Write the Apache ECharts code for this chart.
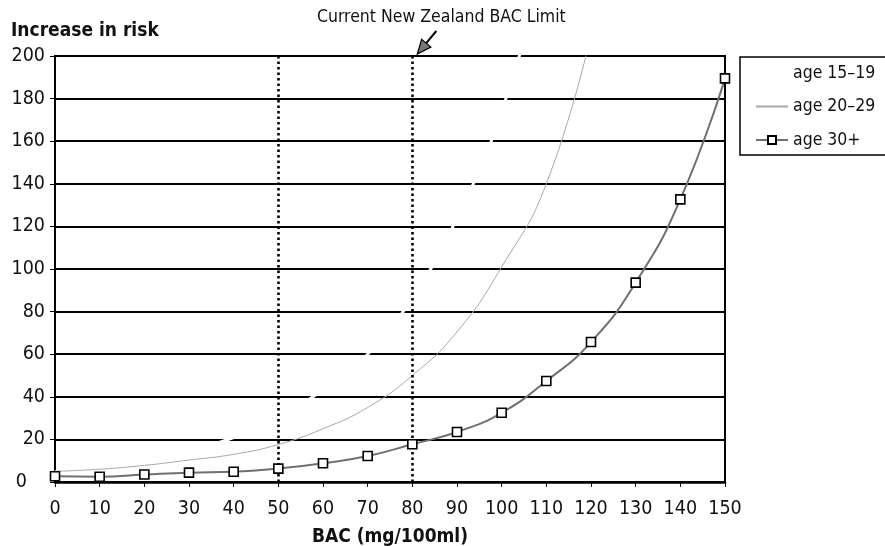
<!DOCTYPE html>
<html>
<head>
<meta charset="utf-8">
<script src="https://cdn.jsdelivr.net/npm/echarts@6/dist/echarts.min.js"></script>
<style>
html,body{margin:0;padding:0;background:#fff;}
#chart{width:885px;height:546px;}
</style>
</head>
<body>
<div id="chart"></div>
<script>
// ---- data ----
const bac = [0, 10, 20, 30, 40, 50, 60, 70, 80, 90, 100, 110, 120, 130, 140, 150];
const age15to19 = [4.8, 7.0, 10.0, 14.4, 20.9, 30.2, 43.4, 60.0, 86.6, 124, 174, 247];
const age20to29 = [5.0, 6.0, 7.8, 10.3, 13.0, 17.6, 25.0, 35.0, 50.0, 70.5, 101, 140, 210];
const age30plus = [2.7, 2.5, 3.5, 4.4, 4.8, 6.3, 8.8, 12.2, 17.7, 23.5, 32.5, 47.4, 65.7, 93.6, 132.7, 189.5];
const seriesNames = ['age 15\u201319', 'age 20\u201329', 'age 30+'];
const limitLines = [50, 80];
const nzLimit = 80;
const yMax = 200;
const titleText = 'Increase in risk';
const annotationText = 'Current New Zealand BAC Limit';
const xAxisTitle = 'BAC (mg/100ml)';

const pairs = (vals) => vals.map((v, i) => [bac[i], v]);
const FONT = '"DejaVu Sans Condensed", "DejaVu Sans", sans-serif';

const chart = echarts.init(document.getElementById('chart'), null, {renderer: 'canvas'});
const option = {
  animation: false,
  backgroundColor: '#fff',
  title: [
    {text: titleText, left: 11, top: 22, padding: 0,
     textStyle: {fontFamily: FONT, fontSize: 19, fontWeight: 'bold', color: '#111'}}
  ],
  grid: {left: 55, right: 160, top: 56, bottom: 64, outerBoundsMode: 'none', containLabel: false,
         show: true, borderColor: '#000', borderWidth: 2, backgroundColor: 'transparent'},
  legend: {
    orient: 'vertical', left: 750, top: 59, padding: 5,
    itemWidth: 32, itemHeight: 10, itemGap: 15.5,
    data: [
      {name: seriesNames[0], itemStyle: {opacity: 0}},
      {name: seriesNames[1], itemStyle: {opacity: 0}},
      {name: seriesNames[2]}
    ],
    textStyle: {fontFamily: FONT, fontSize: 17.5, color: '#111'},
    selectedMode: false
  },
  xAxis: {
    type: 'value', min: 0, max: 150, interval: 10,
    name: xAxisTitle, nameLocation: 'middle', nameGap: 46,
    nameTextStyle: {fontFamily: FONT, fontSize: 19, fontWeight: 'bold', color: '#111'},
    axisLine: {show: true, onZero: false, lineStyle: {color: '#000', width: 2.5}},
    axisTick: {show: true, inside: false, length: 5, lineStyle: {color: '#000', width: 1}},
    axisLabel: {fontFamily: FONT, fontSize: 19.5, color: '#111', margin: 17},
    splitLine: {show: false}
  },
  yAxis: {
    type: 'value', min: 0, max: yMax, interval: 20,
    axisLine: {show: true, lineStyle: {color: '#000', width: 2}},
    axisTick: {show: true, inside: false, length: 5, lineStyle: {color: '#000', width: 1}},
    axisLabel: {fontFamily: FONT, fontSize: 19.5, color: '#111', margin: 10,
      formatter: (v) => v === 0 ? '{z|0}' : String(v),
      rich: {z: {fontFamily: FONT, fontSize: 19.5, color: '#111', padding: [0, 18, 0, 0]}}},
    splitLine: {show: true, lineStyle: {color: '#000', width: 1.8}}
  },
  series: [
    {
      name: seriesNames[0], type: 'line', data: pairs(age15to19), smooth: true,
      showSymbol: false, symbol: 'none', clip: true,
      lineStyle: {color: '#ffffff', width: 3}, itemStyle: {color: '#ffffff'}, z: 3
    },
    {
      name: seriesNames[1], type: 'line', data: pairs(age20to29), smooth: true,
      showSymbol: false, symbol: 'none', clip: true,
      lineStyle: {color: '#a8a8a8', width: 1}, itemStyle: {color: '#a8a8a8'}, z: 4
    },
    {
      name: seriesNames[2], type: 'line', data: pairs(age30plus), smooth: true,
      symbol: 'rect', symbolSize: 9, clip: true,
      lineStyle: {color: '#707070', width: 2},
      itemStyle: {color: '#ffffff', borderColor: '#000', borderWidth: 1.6},
      z: 5,
      markLine: {
        silent: true, symbol: ['none', 'none'], label: {show: false},
        lineStyle: {color: '#000', type: [2.5, 3], width: 2.6},
        emphasis: {disabled: true},
        data: limitLines.map(v => ({xAxis: v}))
      }
    }
  ]
};
chart.setOption(option);

// annotation with arrow pointing at the NZ limit line top
const tip0 = chart.convertToPixel({gridIndex: 0}, [nzLimit, yMax]);
const tip = [tip0[0] + 5, tip0[1] - 2];
const tail = [tip[0] + 19, tip[1] - 23];
const dx = tip[0] - tail[0], dy = tip[1] - tail[1];
const len = Math.sqrt(dx * dx + dy * dy);
const ux = dx / len, uy = dy / len;
const hl = 14, hw = 6;
const base = [tip[0] - ux * hl, tip[1] - uy * hl];
const px = -uy, py = ux;
chart.setOption({
  graphic: [
    {type: 'rect', shape: {x: 740, y: 57, width: 160, height: 98},
     style: {fill: 'none', stroke: '#000', lineWidth: 1.5}, silent: true, z: 1},
    {type: 'text', x: tip0[0] + 29, y: 17,
     style: {text: annotationText, font: '17.5px ' + FONT, fill: '#111', textAlign: 'center', textVerticalAlign: 'middle'}},
    {type: 'line', shape: {x1: tail[0], y1: tail[1], x2: base[0], y2: base[1]},
     style: {stroke: '#000', lineWidth: 2}},
    {type: 'polygon', shape: {points: [tip, [base[0] + px * hw, base[1] + py * hw], [base[0] - px * hw, base[1] - py * hw]]},
     style: {fill: '#777', stroke: '#000', lineWidth: 1.2}}
  ]
});
</script>
</body>
</html>
